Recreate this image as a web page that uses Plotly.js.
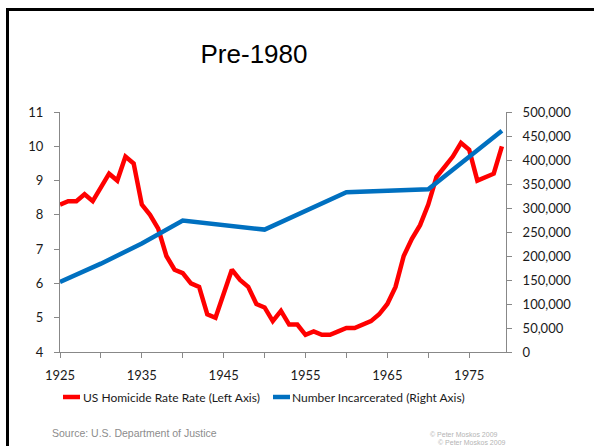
<!DOCTYPE html>
<html>
<head>
<meta charset="utf-8">
<script src="https://cdn.plot.ly/plotly-3.0.1.min.js"></script>
<style>
html,body{margin:0;padding:0;background:#fff;}
#chart{width:594px;height:446px;}
</style>
</head>
<body>
<div id="chart"></div>
<script>
// ---- data ----
var years = [1925,1926,1927,1928,1929,1930,1931,1932,1933,1934,
             1935,1936,1937,1938,1939,1940,1941,1942,1943,1944,
             1945,1946,1947,1948,1949,1950,1951,1952,1953,1954,
             1955,1956,1957,1958,1959,1960,1961,1962,1963,1964,
             1965,1966,1967,1968,1969,1970,1971,1972,1973,1974,
             1975,1976,1977,1978,1979];
var homicideRate = [8.3,8.4,8.4,8.6,8.4,8.8,9.2,9.0,9.7,9.5,
                    8.3,8.0,7.6,6.8,6.4,6.3,6.0,5.9,5.1,5.0,
                    5.7,6.4,6.1,5.9,5.4,5.3,4.9,5.2,4.8,4.8,
                    4.5,4.6,4.5,4.5,4.6,4.7,4.7,4.8,4.9,5.1,
                    5.4,5.9,6.8,7.3,7.7,8.3,9.1,9.4,9.7,10.1,
                    9.9,9.0,9.1,9.2,10.0];
var incYears = [1925,1930,1935,1940,1950,1960,1970,1979];
var incarcerated = [146000,184000,226000,274000,255000,333000,339000,461000];
var xTickVals = [1925,1930,1935,1940,1945,1950,1955,1960,1965,1970,1975];
var xTickText = ['1925','','1935','','1945','','1955','','1965','','1975'];
var seriesNames = ['US Homicide Rate Rate (Left Axis)','Number Incarcerated (Right Axis)'];
var titleText = 'Pre-1980';
var sourceText = 'Source: U.S. Department of Justice';
var copyText = '\u00A9 Peter Moskos 2009';

// ---- layout helpers ----
var W = 594, H = 446, ML = 60, MR = 88, MT = 112, MB = 94;
var PW = W - ML - MR, PH = H - MT - MB;
function px(x){ return (x - ML) / PW; }
function py(y){ return (H - MB - y) / PH; }

var RED = '#FF0000', BLUE = '#0070C0';
var tickFont = {family:'Lato, sans-serif', size:13, color:'#1a1a1a'};
var legFont = {family:'Lato, sans-serif', size:12, color:'#1a1a1a'};
var copyFont = {family:'Liberation Sans, Arial, sans-serif', size:7, color:'#b4b4b4'};

var traces = [
  {x: years, y: homicideRate, type:'scatter', mode:'lines', name: seriesNames[0],
   line:{color:RED, width:4.5}, yaxis:'y', hoverinfo:'x+y'},
  {x: incYears, y: incarcerated, type:'scatter', mode:'lines', name: seriesNames[1],
   line:{color:BLUE, width:4.5}, yaxis:'y2', hoverinfo:'x+y'}
];

var axisCommon = {showgrid:false, zeroline:false, showline:true, linecolor:'#888888', linewidth:1,
                  ticks:'outside', ticklen:5, tickcolor:'#888888', tickfont: tickFont};

var layout = {
  width: W, height: H,
  margin:{l:ML, r:MR, t:MT, b:MB, pad:0},
  paper_bgcolor:'#ffffff', plot_bgcolor:'#ffffff',
  showlegend:false,
  title:{text:titleText, font:{family:'Liberation Sans, Arial, sans-serif', size:26, color:'#000'},
         x:px(254), xanchor:'center', xref:'paper', y:1-54/H, yref:'container', yanchor:'middle'},
  xaxis: Object.assign({}, axisCommon, {range:[1925,1979.5], tickmode:'array', tickvals:xTickVals,
         ticktext:xTickText, ticklabelstandoff:6}),
  yaxis: Object.assign({}, axisCommon, {range:[4,11], dtick:1, tick0:4, ticklabelstandoff:8}),
  yaxis2: Object.assign({}, axisCommon, {range:[0,500000], dtick:50000, tick0:0, overlaying:'y',
          side:'right', tickformat:',d', ticklabelstandoff:8}),
  shapes:[
    {type:'line', xref:'paper', yref:'paper', x0:px(6), x1:px(594), y0:py(9.5), y1:py(9.5),
     line:{color:'#000', width:3}},
    {type:'line', xref:'paper', yref:'paper', x0:px(7.5), x1:px(7.5), y0:py(8), y1:py(446),
     line:{color:'#000', width:3}},
    {type:'line', xref:'paper', yref:'paper', x0:px(63), x1:px(80), y0:py(397), y1:py(397),
     line:{color:RED, width:4.5}},
    {type:'line', xref:'paper', yref:'paper', x0:px(273), x1:px(290), y0:py(397), y1:py(397),
     line:{color:BLUE, width:4.5}}
  ],
  annotations:[
    {text:seriesNames[0], xref:'paper', yref:'paper', x:px(80.5), y:py(397), xanchor:'left', yanchor:'middle',
     showarrow:false, font:legFont},
    {text:seriesNames[1], xref:'paper', yref:'paper', x:px(289.5), y:py(397), xanchor:'left', yanchor:'middle',
     showarrow:false, font:legFont},
    {text:sourceText, xref:'paper', yref:'paper', x:px(50), y:py(433), xanchor:'left', yanchor:'middle',
     showarrow:false, font:{family:'Liberation Sans, Arial, sans-serif', size:10.5, color:'#8c8c8c'}},
    {text:copyText, xref:'paper', yref:'paper', x:px(428), y:py(434.5), xanchor:'left', yanchor:'middle',
     showarrow:false, font:copyFont},
    {text:copyText, xref:'paper', yref:'paper', x:px(436), y:py(442), xanchor:'left', yanchor:'middle',
     showarrow:false, font:copyFont}
  ]
};

Plotly.newPlot('chart', traces, layout, {displayModeBar:false, staticPlot:true});
</script>
</body>
</html>
